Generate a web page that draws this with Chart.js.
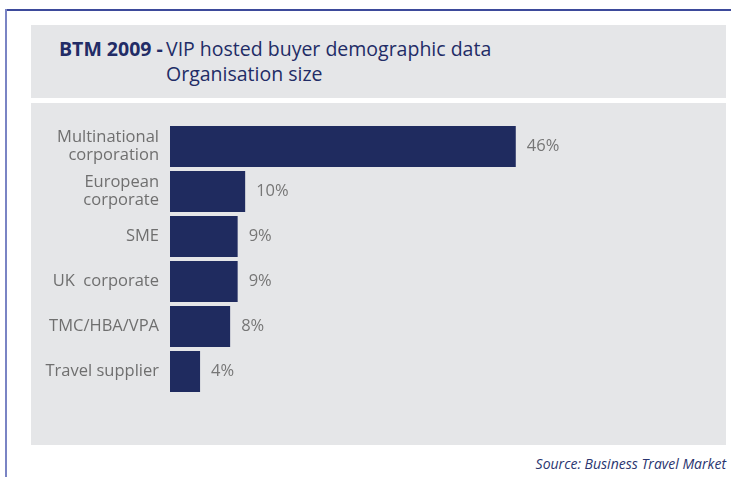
<!DOCTYPE html>
<html lang="en">
<head>
    <meta charset="utf-8">
    <title>BTM 2009 - Organisation size</title>
    <script src="https://cdn.jsdelivr.net/npm/chart.js@4.4.1/dist/chart.umd.min.js"></script>
    <style>
        html, body { margin: 0; padding: 0; background: #fff; }
        body { width: 731px; height: 477px; position: relative; overflow: hidden; font-family: "Open Sans", sans-serif; }
        .frame-top { position: absolute; left: 5px; top: 9px; width: 726px; height: 2px; background: #3d4a9b; }
        .frame-left { position: absolute; left: 5px; top: 9px; width: 2px; height: 468px; background: #7a84c4; }
        .panel { position: absolute; left: 31px; width: 695px; background: #e5e6e8; }
        #head { top: 25px; height: 73px; }
        #body { top: 103px; height: 342px; }
        .title { position: absolute; color: #222c66; font-size: 19.5px; white-space: nowrap; line-height: 1; }
        .title b { font-weight: 700; }
        .source { position: absolute; right: 5px; top: 454px; color: #2a3570; font-size: 14px; font-style: italic; white-space: nowrap; }
        #chart { position: absolute; left: 0; top: 0; }
    </style>
</head>
<body>
    <div class="frame-top"></div>
    <div class="frame-left"></div>

    <div class="panel" id="head"></div>
    <div class="title" style="left:59px; top:39px;"><b>BTM 2009 -</b></div>
    <div class="title" style="left:166px; top:39px;">VIP hosted buyer demographic data</div>
    <div class="title" style="left:166px; top:64px;">Organisation size</div>

    <div class="panel" id="body">
        <canvas id="chart" width="695" height="342"></canvas>
    </div>

    <div class="source">Source: Business Travel Market</div>

    <script>
        const categories = [
            ["Multinational", "corporation"],
            ["European", "corporate"],
            "SME",
            "UK  corporate",
            "TMC/HBA/VPA",
            "Travel supplier"
        ];
        const shares = [46, 10, 9, 9, 8, 4];

        const barColor = "#1f2b5f";
        const labelColor = "#6f6f6f";

        // writes "46%" etc. just past the end of each bar
        const valueLabels = {
            id: "valueLabels",
            afterDatasetsDraw(chart) {
                const ctx = chart.ctx;
                const meta = chart.getDatasetMeta(0);
                ctx.save();
                ctx.font = "16.5px 'Open Sans', sans-serif";
                ctx.fillStyle = "#767676";
                ctx.textAlign = "left";
                ctx.textBaseline = "middle";
                meta.data.forEach((bar, i) => {
                    ctx.fillText(shares[i] + "%", bar.x + 11, bar.y);
                });
                ctx.restore();
            }
        };

        new Chart(document.getElementById("chart").getContext("2d"), {
            type: "bar",
            data: {
                labels: categories,
                datasets: [{
                    data: shares,
                    backgroundColor: barColor,
                    borderWidth: 0,
                    barPercentage: 0.91,
                    categoryPercentage: 1.0
                }]
            },
            options: {
                indexAxis: "y",
                responsive: false,
                animation: false,
                layout: { padding: { left: 0, right: 105, top: 21, bottom: 51 } },
                plugins: {
                    legend: { display: false },
                    tooltip: { enabled: false }
                },
                scales: {
                    x: {
                        display: false,
                        min: 0,
                        max: 60
                    },
                    y: {
                        grid: { display: false, drawTicks: false },
                        border: { display: false },
                        ticks: {
                            color: labelColor,
                            padding: 11,
                            font: { family: "'Open Sans', sans-serif", size: 16.5, lineHeight: 1.1 }
                        },
                        afterFit(scale) { scale.width = 139; }
                    }
                }
            },
            plugins: [valueLabels]
        });
    </script>
</body>
</html>
